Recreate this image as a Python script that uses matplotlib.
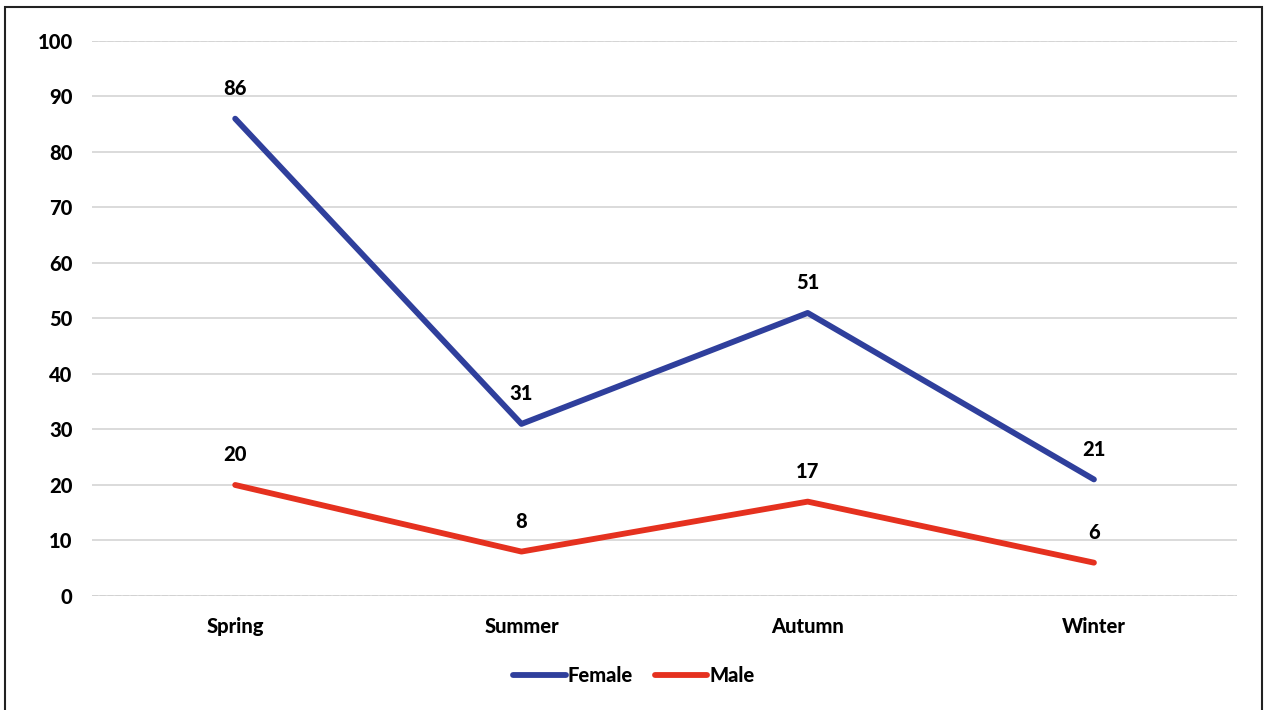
import matplotlib.pyplot as plt
from matplotlib.patches import Rectangle

seasons = ["Spring", "Summer", "Autumn", "Winter"]
female = [86, 31, 51, 21]
male = [20, 8, 17, 6]
yticks = list(range(0, 101, 10))

plt.rcParams['font.family'] = ['Lato', 'DejaVu Sans']
plt.rcParams['font.weight'] = 'black'
FS = 14.5

fig = plt.figure(figsize=(12.68, 7.10), dpi=100)
ax = fig.add_axes([0.0726, 0.1606, 0.903, 0.7817])

x = range(len(seasons))
ax.plot(x, female, color='#2f3f9c', lw=4.2, solid_capstyle='round', label='Female')
ax.plot(x, male, color='#e5311f', lw=4.2, solid_capstyle='round', label='Male')

# value labels above each point
for series in (female, male):
    for xi, v in zip(x, series):
        ax.annotate(str(v), (xi, v), xytext=(0, 15), textcoords='offset points',
                    ha='center', va='bottom', fontsize=FS, fontweight='black')

ax.set_xlim(-0.5, 3.5)
ax.set_ylim(0, 100)
ax.set_yticks(yticks)
ax.set_xticks(list(x))
ax.set_xticklabels(seasons)
ax.tick_params(axis='both', length=0, labelsize=FS)
ax.tick_params(axis='y', pad=14)
ax.tick_params(axis='x', pad=15)

ax.grid(axis='y', color='#d4d4d4', lw=1.2)
ax.set_axisbelow(True)
for s in ax.spines.values():
    s.set_visible(False)
ax.axhline(0, color='#c8c8c8', lw=1.4, ls=(0, (3, 1)), zorder=0)
ax.axhline(100, color='#dadada', lw=1.4, ls=(0, (3, 1)), zorder=0)

fig.legend(loc='center', bbox_to_anchor=(0.5, 0.048), ncol=2, frameon=False,
           prop={'size': FS, 'weight': 'black'}, handlelength=2.6,
           handletextpad=0.1, columnspacing=1.1)

# outer frame
fig.patches.append(Rectangle((5 / 1268, -0.05), 1257 / 1268, 1.05 - 7 / 710,
                             transform=fig.transFigure, fill=False,
                             edgecolor='#222222', lw=1.5))

fig.savefig('out.png', dpi=100)
